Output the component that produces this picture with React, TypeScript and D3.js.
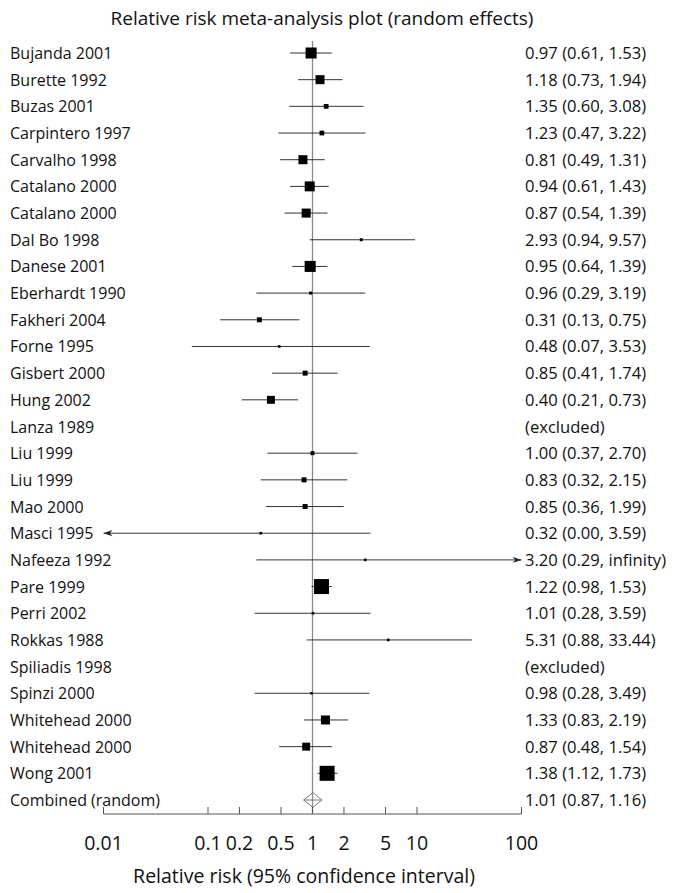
import React from 'react';
import * as d3 from 'd3';

const studies = [
  'Bujanda 2001', 'Burette 1992', 'Buzas 2001', 'Carpintero 1997', 'Carvalho 1998',
  'Catalano 2000', 'Catalano 2000', 'Dal Bo 1998', 'Danese 2001', 'Eberhardt 1990',
  'Fakheri 2004', 'Forne 1995', 'Gisbert 2000', 'Hung 2002', 'Lanza 1989',
  'Liu 1999', 'Liu 1999', 'Mao 2000', 'Masci 1995', 'Nafeeza 1992',
  'Pare 1999', 'Perri 2002', 'Rokkas 1988', 'Spiliadis 1998', 'Spinzi 2000',
  'Whitehead 2000', 'Whitehead 2000', 'Wong 2001',
];
// null = excluded
const rr = [0.97, 1.18, 1.35, 1.23, 0.81, 0.94, 0.87, 2.93, 0.95, 0.96, 0.31, 0.48, 0.85, 0.40, null,
  1.00, 0.83, 0.85, 0.32, 3.20, 1.22, 1.01, 5.31, null, 0.98, 1.33, 0.87, 1.38];
const lower = [0.61, 0.73, 0.60, 0.47, 0.49, 0.61, 0.54, 0.94, 0.64, 0.29, 0.13, 0.07, 0.41, 0.21, null,
  0.37, 0.32, 0.36, 0.00, 0.29, 0.98, 0.28, 0.88, null, 0.28, 0.83, 0.48, 1.12];
const upper = [1.53, 1.94, 3.08, 3.22, 1.31, 1.43, 1.39, 9.57, 1.39, 3.19, 0.75, 3.53, 1.74, 0.73, null,
  2.70, 2.15, 1.99, 3.59, Infinity, 1.53, 3.59, 33.44, null, 3.49, 2.19, 1.54, 1.73];
// relative weights (box area)
const weights = [5.4, 3.6, 1.0, 1.0, 3.6, 4.4, 3.6, 0.4, 5.4, 0.4, 1.1, 0.3, 1.1, 2.8, 0,
  0.7, 1.1, 1.1, 0.3, 0.3, 10, 0.3, 0.3, 0, 0.25, 3.6, 2.8, 10];
const combined = { label: 'Combined (random)', rr: 1.01, lo: 0.87, hi: 1.16 };
const tickValues = [0.01, 0.1, 0.2, 0.5, 1, 2, 5, 10, 100];

const W = 675;
const H = 893;
const FONT = "'Open Sans', 'Noto Sans', sans-serif";

const fmt = (v: number) => (v === Infinity ? 'infinity' : v.toFixed(2));

export default function App() {
  const x = d3.scaleLog().domain([0.01, 100]).range([103.5, 521.5]);
  const rowIds = d3.range(studies.length + 1).map(String);
  const y = d3.scalePoint().domain(rowIds).range([53, 800]);
  const box = d3.scaleSqrt().domain([0, d3.max(weights) as number]).range([0, 15]);
  const axisY = 814;
  const [xmin, xmax] = x.domain();

  const combY = y(String(studies.length)) as number;
  const dh = 7.5;
  const dw = 2.5;
  const diamond = `M${x(combined.lo) - dw},${combY} L${x(combined.rr)},${combY - dh} L${x(combined.hi) + dw},${combY} L${x(combined.rr)},${combY + dh} Z`;

  return (
    <svg width={W} height={H} style={{ position: 'absolute', left: 0, top: 0, background: '#fff' }}
      fontFamily={FONT}>
      <defs>
        <marker id="arr" viewBox="0 0 10 10" refX="10" refY="5" markerWidth="9" markerHeight="9"
          orient="auto-start-reverse" markerUnits="userSpaceOnUse">
          <path d="M0,1.5 L10,5 L0,8.5 L3,5 Z" fill="#222" />
        </marker>
      </defs>
      <text x={322} y={25} fontSize={19} textAnchor="middle" fill="#111">
        Relative risk meta-analysis plot (random effects)
      </text>

      {/* null line */}
      <line x1={x(1)} x2={x(1)} y1={41} y2={axisY} stroke="#8a8a8a" strokeWidth={1.3} />

      {studies.map((s, i) => {
        const cy = y(String(i)) as number;
        const est = rr[i];
        const lo = lower[i];
        const hi = upper[i];
        const excluded = est === null;
        const loClip = lo !== null && lo < xmin;
        const hiClip = hi !== null && hi > xmax;
        const side = Math.max(box(weights[i]), 2.5);
        return (
          <g key={i}>
            <text x={10} y={cy + 6} fontSize={16} fill="#111">{s}</text>
            {!excluded && (
              <>
                <line x1={x(loClip ? xmin : (lo as number))} x2={x(hiClip ? xmax : (hi as number))}
                  y1={cy} y2={cy} stroke="#333" strokeWidth={1}
                  markerStart={loClip ? 'url(#arr)' : undefined}
                  markerEnd={hiClip ? 'url(#arr)' : undefined} />
                <rect x={x(est as number) - side / 2} y={cy - side / 2} width={side} height={side} fill="#000" />
              </>
            )}
            <text x={525} y={cy + 6} fontSize={16.6} fill="#111">
              {excluded ? '(excluded)' : `${fmt(est as number)} (${fmt(lo as number)}, ${fmt(hi as number)})`}
            </text>
          </g>
        );
      })}

      {/* combined */}
      <text x={10} y={combY + 6} fontSize={16} fill="#111">{combined.label}</text>
      <path d={diamond} fill="none" stroke="#777" strokeWidth={1} />
      <line x1={x(combined.lo) - dw} x2={x(combined.hi) + dw} y1={combY} y2={combY} stroke="#777" strokeWidth={1} />
      <text x={525} y={combY + 6} fontSize={16.6} fill="#111">
        {`${fmt(combined.rr)} (${fmt(combined.lo)}, ${fmt(combined.hi)})`}
      </text>

      {/* axis */}
      <line x1={x(xmin)} x2={x(xmax)} y1={axisY} y2={axisY} stroke="#555" strokeWidth={1} />
      {tickValues.map((t) => (
        <g key={t}>
          <line x1={x(t)} x2={x(t)} y1={axisY} y2={axisY - 7} stroke="#555" strokeWidth={1} />
          <text x={x(t)} y={850} fontSize={19.5} textAnchor="middle" fill="#111">{String(t)}</text>
        </g>
      ))}
      <text x={304} y={883} fontSize={19.5} textAnchor="middle" fill="#111">
        Relative risk (95% confidence interval)
      </text>
    </svg>
  );
}
